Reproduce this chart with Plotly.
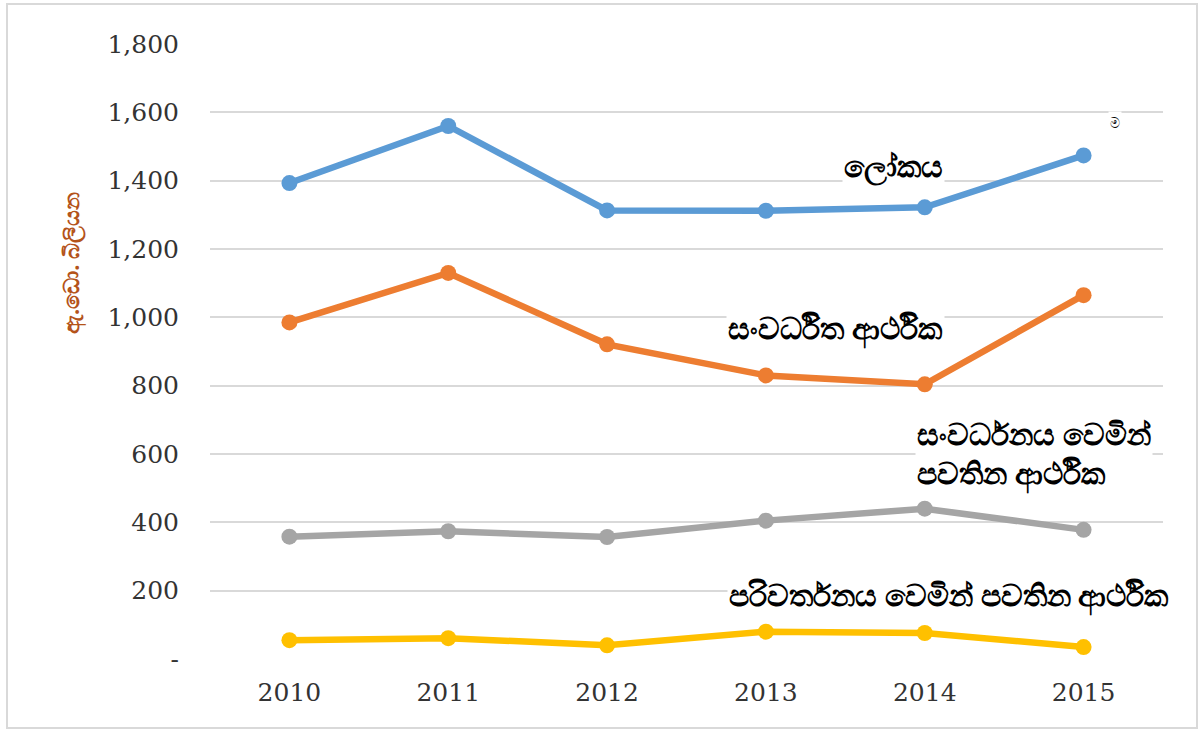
import plotly.graph_objects as go

years = ["2010", "2011", "2012", "2013", "2014", "2015"]
world = [1393, 1560, 1313, 1312, 1322, 1474]
developed = [985, 1130, 921, 830, 804, 1065]
developing = [358, 374, 357, 405, 440, 378]
transition = [55, 61, 40, 80, 76, 35]

series_names = ["ලෝකය", "සංවර්ධිත ආර්ථික", "සංවර්ධනය වෙමින් පවතින ආර්ථික", "පරිවර්තනය වෙමින් පවතින ආර්ථික"]
series_vals = [world, developed, developing, transition]
colors = ["#5B9BD5", "#ED7D31", "#A5A5A5", "#FFC000"]

y_ticks = [0, 200, 400, 600, 800, 1000, 1200, 1400, 1600, 1800]
y_ticktext = ["-", "200", "400", "600", "800", "1,000", "1,200", "1,400", "1,600", "1,800"]
y_title = "ඇ.ඩො. බිලියන"

FONT = "DejaVu Serif, Liberation Serif, serif"
SIN = "Noto Sans, DejaVu Sans, sans-serif"

fig = go.Figure()
for name, vals, col in zip(series_names, series_vals, colors):
    fig.add_trace(go.Scatter(
        x=years, y=vals, name=name, mode="lines+markers",
        line=dict(color=col, width=6.5),
        marker=dict(color=col, size=16),
        showlegend=False,
    ))

W, H = 1201, 733
L, R, T, B = 210, 38, 44, 74
pw, ph = W - L - R, H - T - B

def px(x):
    return (x - L) / pw

def py(y):
    return (H - B - y) / ph

label_style = dict(size=30, color="#000000", family=SIN)
annots = [
    dict(text="<b>ලෝකය</b>", x=px(893), y=py(165), xanchor="center", yanchor="middle"),
    dict(text="<b>සංවර්ධිත ආර්ථික</b>", x=px(835), y=py(328), xanchor="center", yanchor="middle"),
    dict(text="<b>සංවර්ධනය වෙමින්<br>පවතින ආර්ථික</b>", x=px(915), y=py(453), xanchor="left", yanchor="middle", align="left"),
    dict(text="<b>පරිවර්තනය වෙමින් පවතින ආර්ථික</b>", x=px(949), y=py(595), xanchor="center", yanchor="middle"),
]
for a in annots:
    fig.add_annotation(xref="paper", yref="paper", showarrow=False,
                       font=label_style, bgcolor="white", **a)

fig.add_annotation(xref="paper", yref="paper", showarrow=False,
                   text="ම", x=px(1122), y=py(111), font=dict(size=14, color="#000", family=SIN),
                   bgcolor="white")

fig.add_annotation(xref="paper", yref="paper", showarrow=False,
                   text="<b>" + y_title + "</b>", textangle=-90, x=px(70), y=py(263),
                   xanchor="center", yanchor="middle",
                   font=dict(size=22, color="#B4531A", family=SIN))

fig.add_shape(type="rect", xref="paper", yref="paper",
              x0=px(7), x1=px(1197), y0=py(728), y1=py(4),
              line=dict(color="#D9D9D9", width=2), fillcolor="rgba(0,0,0,0)", layer="below")

fig.update_layout(
    width=W, height=H,
    margin=dict(l=L, r=R, t=T, b=B),
    paper_bgcolor="white", plot_bgcolor="white",
    xaxis=dict(type="category", range=[-0.5, 5.5], showgrid=False, zeroline=False,
               showline=False, ticks="", tickfont=dict(family=FONT, size=25, color="#333333"),
               ticklabelstandoff=16),
    yaxis=dict(range=[0, 1800], tickvals=y_ticks, ticktext=y_ticktext,
               showgrid=True, gridcolor="#D9D9D9", gridwidth=2, zeroline=False,
               showline=False, ticks="", tickfont=dict(family=FONT, size=25, color="#333333"),
               ticklabelstandoff=30),
)

fig.write_html("out.html", config={"displayModeBar": False},
               post_script="document.body.style.margin='0';")
